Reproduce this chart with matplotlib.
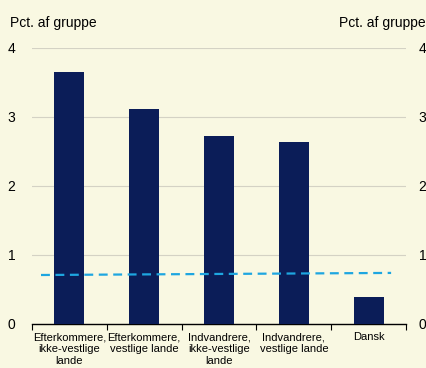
import matplotlib
matplotlib.use("Agg")
import matplotlib.pyplot as plt
import numpy as np

categories = [
    "Efterkommere,\nikke-vestlige\nlande",
    "Efterkommere,\nvestlige lande",
    "Indvandrere,\nikke-vestlige\nlande",
    "Indvandrere,\nvestlige lande",
    "Dansk",
]
values = [3.65, 3.12, 2.72, 2.64, 0.39]
avg_x = [-0.38, 4.3]
avg_y = [0.71, 0.74]
yticks = [0, 1, 2, 3, 4]

bg = "#F9F8E2"
bar_color = "#0B1D58"
line_color = "#1EA6E0"

plt.rcParams["font.family"] = ["Liberation Sans", "DejaVu Sans"]

fig = plt.figure(figsize=(4.27, 3.68), dpi=100, facecolor=bg)
ax = fig.add_axes([0.075, 0.1196, 0.876, 0.75], facecolor=bg)

x = np.arange(len(categories))
ax.bar(x, values, width=0.4, color=bar_color, zorder=3)
ax.plot(avg_x, avg_y, color=line_color, lw=1.6, ls=(0, (4, 2.5)), zorder=4)

ax.set_xlim(-0.5, len(categories) - 0.5)
ax.set_ylim(0, 4)
ax.set_yticks(yticks)
ax.set_yticklabels([str(t) for t in yticks], fontsize=10)
ax.grid(axis="y", color="#D4D2C4", lw=0.8, zorder=0)
ax.tick_params(axis="y", length=0, pad=12)

# right-hand copy of the y labels
ax2 = ax.twinx()
ax2.set_ylim(ax.get_ylim())
ax2.set_yticks(yticks)
ax2.set_yticklabels([str(t) for t in yticks], fontsize=10)
ax2.tick_params(axis="y", length=0, pad=9)

ax.set_xticks(np.arange(-0.5, len(categories)), minor=False)
ax.set_xticklabels([])
ax.set_xticks(x, minor=True)
ax.set_xticklabels(categories, minor=True, fontsize=8, linespacing=1.25)
ax.tick_params(axis="x", which="major", length=4, width=0.8, direction="out")
ax.tick_params(axis="x", which="minor", length=0, pad=6)

for a in (ax, ax2):
    for side in ["left", "right", "top"]:
        a.spines[side].set_visible(False)
ax2.spines["bottom"].set_visible(False)
ax.spines["bottom"].set_linewidth(1.0)

fig.text(0.023, 0.937, "Pct. af gruppe", fontsize=10, ha="left", va="center")
fig.text(0.997, 0.937, "Pct. af gruppe", fontsize=10, ha="right", va="center")

fig.savefig("out.png", dpi=100, facecolor=bg)
